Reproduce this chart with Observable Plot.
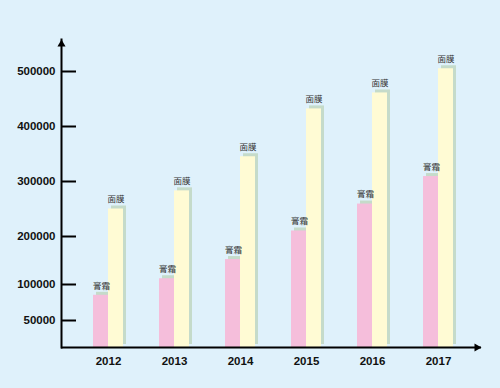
<!DOCTYPE html>
<html><head><meta charset="utf-8">
<script src="https://cdn.jsdelivr.net/npm/d3@7"></script>
<script src="https://cdn.jsdelivr.net/npm/@observablehq/plot@0.6"></script>
<style>html,body{margin:0;padding:0;background:#dff1fb;}</style>
</head><body><div id="chart"></div>
<script>
const years = ["2012", "2013", "2014", "2015", "2016", "2017"];
const creamValues = [85000, 112000, 152000, 210000, 259000, 309000];
const maskValues = [250000, 283000, 345000, 432000, 461000, 505000];
const creamLabel = "膏霜";
const maskLabel = "面膜";
const yTicks = [50000, 100000, 200000, 300000, 400000, 500000];

const rows = years.map((year, i) => ({year, cream: creamValues[i], mask: maskValues[i]}));

const W = 500, H = 388, mL = 61, mR = 19, mT = 39, mB = 41;
const frameW = W - mL - mR;
const shadow = "#c5dbca", pink = "#f5bedb", yellow = "#fffbd4";
const half = 15;
const cjk = "'Noto Sans CJK SC', sans-serif";

const chart = Plot.plot({
  width: W, height: H,
  marginLeft: mL, marginRight: mR, marginTop: mT, marginBottom: mB,
  style: {background: "#dff1fb", fontFamily: "'Liberation Sans', Arial, sans-serif", color: "#000"},
  x: {type: "band", domain: years, paddingInner: 0.548, paddingOuter: 0.437, align: 0.534, label: null},
  y: {type: "linear", domain: [0, 50000, 100000, 200000, 500000], range: [347, 320, 284, 236, 71], label: null},
  marks: [
    Plot.rectY(rows, {x: "year", y: "cream", insetRight: half, dx: 3, dy: -3, fill: shadow}),
    Plot.rectY(rows, {x: "year", y: "mask", insetLeft: half, dx: 3, dy: -3, fill: shadow}),
    Plot.rectY(rows, {x: "year", y: "cream", insetRight: half, fill: pink}),
    Plot.rectY(rows, {x: "year", y: "mask", insetLeft: half, fill: yellow}),
    Plot.text(rows, {x: "year", y: "cream", text: () => creamLabel, dx: -7, dy: -9.5, fontSize: 8.5, fontFamily: cjk, fill: "#333"}),
    Plot.text(rows, {x: "year", y: "mask", text: () => maskLabel, dx: 7.5, dy: -9.5, fontSize: 8.5, fontFamily: cjk, fill: "#333"}),
    Plot.ruleY(yTicks, {insetRight: frameW - 15, strokeWidth: 2}),
    Plot.ruleY([0], {strokeWidth: 2}),
    Plot.frame({anchor: "left", strokeWidth: 2}),
    Plot.dot([0], {frameAnchor: "top-left", symbol: "triangle", r: 3, fill: "#000", stroke: null, dy: 4.67}),
    Plot.dot([0], {frameAnchor: "bottom-right", symbol: "triangle", rotate: 90, r: 3, fill: "#000", stroke: null, dx: -4.67}),
    Plot.axisY(yTicks, {tickSize: 0, tickPadding: 6, tickFormat: d3.format("d"), fontSize: 11.5, fontWeight: "bold", fill: "#111"}),
    Plot.axisX({tickSize: 0, tickPadding: 9, fontSize: 11.5, fontWeight: "bold", fill: "#111"})
  ]
});
document.getElementById("chart").appendChild(chart);
</script>
</body></html>
